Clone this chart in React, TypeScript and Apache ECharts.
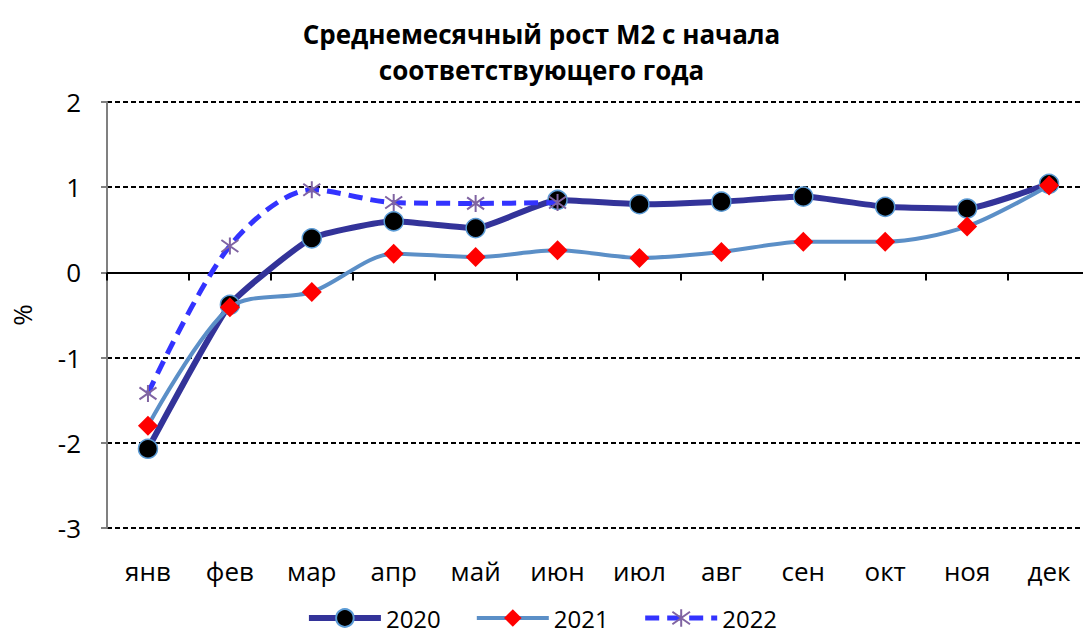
import React, { useEffect, useRef } from "react";
import * as echarts from "echarts";

const months = ["янв", "фев", "мар", "апр", "май", "июн", "июл", "авг", "сен", "окт", "ноя", "дек"];
const s2020 = [-2.07, -0.38, 0.4, 0.6, 0.52, 0.85, 0.8, 0.83, 0.89, 0.77, 0.75, 1.04];
const s2021 = [-1.8, -0.41, -0.23, 0.22, 0.18, 0.26, 0.17, 0.24, 0.36, 0.36, 0.54, 1.02];
const s2022 = [-1.42, 0.31, 0.97, 0.82, 0.81, 0.82, null, null, null, null, null, null];
const titleText = "Среднемесячный рост М2 с начала\nсоответствующего года";
const FONT = "'Open Sans', 'Noto Sans', sans-serif";

const star = "path://M0,-10 L0,10 M-7.07,-7.07 L7.07,7.07 M-7.07,7.07 L7.07,-7.07";

export default function App() {
  const ref = useRef<HTMLDivElement>(null);
  useEffect(() => {
    if (!ref.current) return;
    const chart = echarts.init(ref.current, undefined, { renderer: "svg" });
    chart.setOption({
      animation: false,
      backgroundColor: "#fff",
      title: {
        text: titleText,
        left: "center",
        top: 11,
        textStyle: { fontFamily: FONT, fontSize: 26, fontWeight: "bold", color: "#000", lineHeight: 36 },
      },
      legend: {
        top: 601,
        left: "center",
        itemWidth: 72,
        itemHeight: 22,
        itemGap: 34,
        textStyle: { fontFamily: FONT, fontSize: 24, lineHeight: 24, color: "#000" },
        data: [
          { name: "2020", lineStyle: { width: 6 } },
          { name: "2021", lineStyle: { width: 4 } },
          { name: "2022", lineStyle: { width: 5 } },
        ],
      },
      grid: {
        left: 107,
        right: -7,
        top: 102,
        bottom: 107,
        containLabel: false,
        outerBoundsMode: "none",
      },
      xAxis: {
        type: "category",
        data: months,
        position: "bottom",
        axisLine: { show: true, onZero: true, lineStyle: { color: "#000", width: 2 } },
        axisTick: { show: true, interval: 0, length: 8, inside: false, lineStyle: { color: "#000", width: 2 } },
        axisLabel: { fontFamily: FONT, fontSize: 26, color: "#000", margin: 30, interval: 0 },
      },
      yAxis: {
        type: "value",
        min: -3,
        max: 2,
        interval: 1,
        name: "%",
        nameLocation: "middle",
        nameGap: 72,
        nameRotate: 90,
        nameTextStyle: { fontFamily: FONT, fontSize: 26, color: "#000" },
        axisLine: { show: true, lineStyle: { color: "#808080", width: 2 } },
        axisTick: { show: true, length: 6, lineStyle: { color: "#808080", width: 2 } },
        axisLabel: { fontFamily: FONT, fontSize: 26, color: "#000", margin: 26 },
        splitLine: { show: true, lineStyle: { color: "#000", type: [5, 3], width: 2 } },
      },
      series: [
        {
          name: "2020",
          type: "line",
          data: s2020,
          smooth: 0.15,
          symbol: "circle",
          symbolSize: 19,
          lineStyle: { color: "#333399", width: 6 },
          itemStyle: { color: "#000", borderColor: "#5b9bd5", borderWidth: 1.5 },
          z: 3,
        },
        {
          name: "2021",
          type: "line",
          data: s2021,
          smooth: 0.3,
          symbol: "diamond",
          symbolSize: 20,
          lineStyle: { color: "#5b8fc7", width: 4 },
          itemStyle: { color: "#ff0000", borderColor: "#ff0000", borderWidth: 0 },
          z: 4,
        },
        {
          name: "2022",
          type: "line",
          data: s2022,
          smooth: 0.3,
          symbol: star,
          symbolSize: 17,
          connectNulls: false,
          lineStyle: { color: "#3333ff", width: 5, type: [14, 8] },
          itemStyle: { color: "rgba(0,0,0,0)", borderColor: "#8064a2", borderWidth: 2 },
          z: 5,
        },
      ],
    });
    return () => chart.dispose();
  }, []);
  return (
    <div
      ref={ref}
      style={{ position: "fixed", left: 0, top: 0, width: 1083, height: 635 }}
    />
  );
}
